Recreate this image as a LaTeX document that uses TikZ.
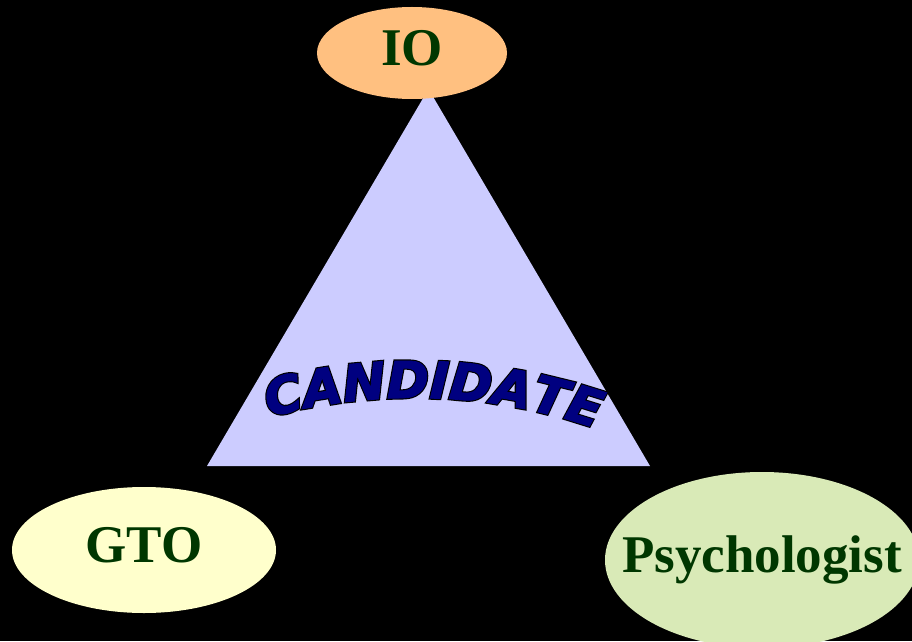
\documentclass[tikz,border=0pt]{standalone}
\usepackage{fontspec}
\setmainfont{Liberation Serif}
\newfontfamily\candfont{DejaVu Sans}[BoldItalicFeatures={FakeBold=1.5}]
\newfontfamily\candedge{DejaVu Sans}[BoldItalicFeatures={FakeBold=6}]
\usetikzlibrary{shapes.geometric,decorations.text}
\definecolor{ioorange}{RGB}{255,192,128}
\definecolor{gtoyellow}{RGB}{255,255,204}
\definecolor{psygreen}{RGB}{217,234,183}
\definecolor{trililac}{RGB}{204,204,255}
\definecolor{darkgreen}{RGB}{0,55,0}
\definecolor{candnavy}{RGB}{0,0,128}
\newcommand{\rolefont}{\fontsize{53}{60}\selectfont\bfseries}

\begin{document}
\begin{tikzpicture}[x=1pt,y=1pt,
  main/.style = {ellipse, inner sep=0pt, text height=35pt, text depth=10pt, text=darkgreen, font=\rolefont},
  cand/.style 2 args = {decorate, decoration={text along path, text align=center, text color=#1,
      text={|\fontsize{51}{60}#2\bfseries\itshape|CANDIDATE}}}]
\useasboundingbox (0,0) rectangle (912,641);
\clip (0,0) rectangle (912,641);
\fill[black] (0,0) rectangle (912,641);
% triangle
\coordinate (top) at (428.5,552);
\coordinate (left) at (207,175);
\coordinate (right) at (650,175);
\fill[trililac] (left) -- (right) -- (top) -- cycle;
% the three roles
\node[main, fill=ioorange, minimum width=190pt, minimum height=92pt] (io) at (412,588) {IO};
\node[main, fill=gtoyellow, minimum width=264pt, minimum height=126pt] (gto) at (144,91) {GTO};
\node[main, fill=psygreen, inner xsep=-30pt, minimum width=314pt, minimum height=176pt] (psy) at (762,81) {Psychologist};
% arched word
\path[cand={black}{\candedge}] (414,-314) ++(112:557) arc[start angle=112, end angle=64, radius=557];
\path[cand={candnavy}{\candfont}] (414,-314) ++(112:557) arc[start angle=112, end angle=64, radius=557];
\end{tikzpicture}
\end{document}
